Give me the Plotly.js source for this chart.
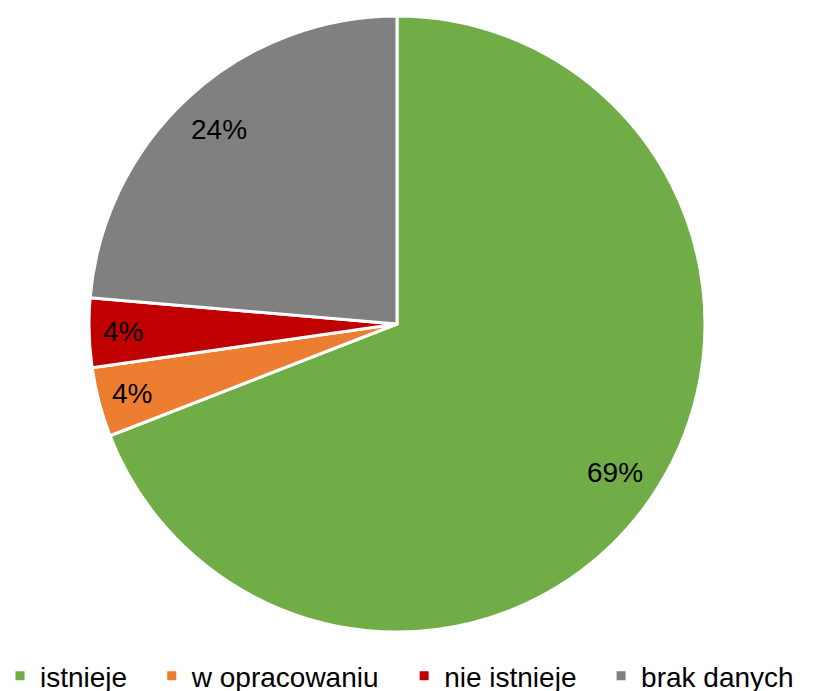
<!DOCTYPE html>
<html>
<head>
<meta charset="utf-8">
<script src="https://cdn.plot.ly/plotly-3.0.1.min.js"></script>
<style>html,body{margin:0;padding:0;background:#fff;}#chart{width:815px;height:691px;}</style>
</head>
<body>
<div id="chart"></div>
<script>
const categories = ["istnieje", "w opracowaniu", "nie istnieje", "brak danych"];
const counts = [38, 2, 2, 13];
const colors = ["#70AD47", "#ED7D31", "#C00000", "#808080"];

const W = 815, H = 691;
const cx = 397, cy = 324, R = 308;

const total = counts.reduce((a, b) => a + b, 0);
const annotations = [];
let acc = 0;
counts.forEach((v, i) => {
  const share = v / total;
  const mid = (acc + share / 2) * 2 * Math.PI;
  acc += share;
  const f = share > 0.1 ? 0.856 : 0.89;
  const px = cx + R * f * Math.sin(mid);
  const py = cy - R * f * Math.cos(mid);
  annotations.push({
    x: px / W, y: 1 - py / H, xref: 'paper', yref: 'paper',
    xanchor: 'center', yanchor: 'middle',
    text: Math.round(share * 100) + '%', showarrow: false,
    font: {family: 'Liberation Sans, Arial, sans-serif', size: 28, color: '#000'}
  });
});

// legend entries padded with narrow spaces to reproduce the wider item spacing
const pad = '\u2002\u2009';

const trace = {
  type: 'pie',
  labels: categories.map((c, i) => i < categories.length - 1 ? c + pad : c),
  values: counts,
  sort: false,
  direction: 'clockwise',
  rotation: 0,
  textinfo: 'none',
  hoverinfo: 'label+percent',
  marker: {colors: colors, line: {color: '#ffffff', width: 3}},
  domain: {x: [(cx - R) / W, (cx + R) / W], y: [1 - (cy + R) / H, 1 - (cy - R) / H]}
};

const layout = {
  width: W, height: H,
  margin: {l: 0, r: 0, t: 0, b: 0, autoexpand: false},
  paper_bgcolor: '#fff',
  showlegend: true,
  legend: {
    orientation: 'h', xref: 'container', yref: 'container',
    x: -7 / W, xanchor: 'left', y: 15 / H, yanchor: 'middle',
    font: {family: 'Liberation Sans, Arial, sans-serif', size: 28, color: '#000'},
    itemwidth: 30, traceorder: 'normal'
  },
  annotations: annotations
};

Plotly.newPlot('chart', [trace], layout, {displayModeBar: false, staticPlot: true});
</script>
</body>
</html>
